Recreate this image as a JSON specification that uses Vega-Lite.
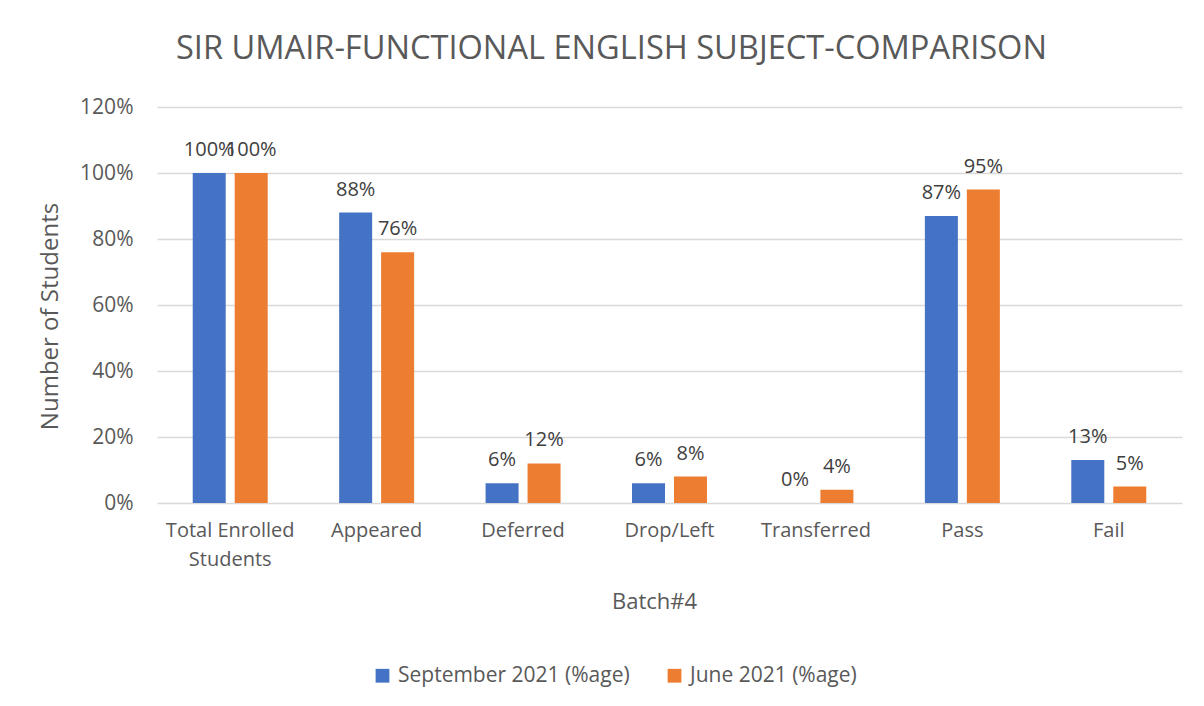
{
  "$schema": "https://vega.github.io/schema/vega-lite/v6.json",
  "autosize": {"type": "none"},
  "width": 1025,
  "height": 396,
  "padding": {"left": 157, "top": 107, "right": 22, "bottom": 203},
  "background": "white",
  "title": {
    "text": "SIR UMAIR-FUNCTIONAL ENGLISH SUBJECT-COMPARISON",
    "font": "Open Sans",
    "fontSize": 32.6,
    "fontWeight": "normal",
    "color": "#595959",
    "anchor": "middle",
    "dx": -58,
    "offset": 30
  },
  "data": {
    "values": [
      {"category": "Total Enrolled Students", "series": "September 2021 (%age)", "value": 1.00},
      {"category": "Total Enrolled Students", "series": "June 2021 (%age)", "value": 1.00},
      {"category": "Appeared", "series": "September 2021 (%age)", "value": 0.88},
      {"category": "Appeared", "series": "June 2021 (%age)", "value": 0.76},
      {"category": "Deferred", "series": "September 2021 (%age)", "value": 0.06},
      {"category": "Deferred", "series": "June 2021 (%age)", "value": 0.12},
      {"category": "Drop/Left", "series": "September 2021 (%age)", "value": 0.06},
      {"category": "Drop/Left", "series": "June 2021 (%age)", "value": 0.08},
      {"category": "Transferred", "series": "September 2021 (%age)", "value": 0.0},
      {"category": "Transferred", "series": "June 2021 (%age)", "value": 0.04},
      {"category": "Pass", "series": "September 2021 (%age)", "value": 0.87},
      {"category": "Pass", "series": "June 2021 (%age)", "value": 0.95},
      {"category": "Fail", "series": "September 2021 (%age)", "value": 0.13},
      {"category": "Fail", "series": "June 2021 (%age)", "value": 0.05}
    ]
  },
  "encoding": {
    "x": {
      "field": "category",
      "type": "nominal",
      "sort": null,
      "scale": {"paddingInner": 0.488, "paddingOuter": 0.244},
      "axis": {
        "title": "Batch#4",
        "titleFont": "Open Sans",
        "titleFontSize": 22,
        "titleFontWeight": "normal",
        "titleColor": "#595959",
        "titlePadding": 22,
        "titleX": 497,
        "labelFont": "Open Sans",
        "labelFontSize": 20,
        "labelColor": "#595959",
        "labelAngle": 0,
        "labelPadding": 17,
        "labelLineHeight": 29,
        "labelLimit": 300,
        "labelExpr": "datum.label == 'Total Enrolled Students' ? ['Total Enrolled', 'Students'] : datum.label",
        "domain": false,
        "ticks": false
      }
    },
    "xOffset": {
      "field": "series",
      "type": "nominal",
      "sort": ["September 2021 (%age)", "June 2021 (%age)"],
      "scale": {"paddingInner": 0.214, "paddingOuter": 0}
    },
    "y": {
      "field": "value",
      "type": "quantitative",
      "scale": {"domain": [0, 1.2]},
      "axis": {
        "title": "Number of Students",
        "titleFont": "Open Sans",
        "titleFontSize": 24,
        "titleFontWeight": "normal",
        "titleColor": "#595959",
        "titleX": -95,
        "titleY": 209,
        "format": ".0%",
        "values": [0, 0.2, 0.4, 0.6, 0.8, 1.0, 1.2],
        "labelOverlap": false,
        "labelFont": "Open Sans",
        "labelFontSize": 21,
        "labelColor": "#595959",
        "labelPadding": 24,
        "domain": false,
        "ticks": false,
        "gridColor": "#D9D9D9",
        "gridWidth": 1.3
      }
    }
  },
  "layer": [
    {
      "mark": {"type": "bar"},
      "encoding": {
        "color": {
          "field": "series",
          "type": "nominal",
          "sort": ["September 2021 (%age)", "June 2021 (%age)"],
          "scale": {"domain": ["September 2021 (%age)", "June 2021 (%age)"], "range": ["#4472C4", "#ED7D31"]},
          "legend": {
            "title": null,
            "orient": "none",
            "direction": "horizontal",
            "legendX": 215,
            "legendY": 558,
            "symbolType": "square",
            "symbolSize": 190,
            "symbolStrokeWidth": 0,
            "labelFont": "Open Sans",
            "labelFontSize": 21,
            "labelColor": "#595959",
            "labelOffset": 5,
            "labelLimit": 400,
            "columnPadding": 34
          }
        }
      }
    },
    {
      "mark": {"type": "text", "baseline": "alphabetic", "dy": -17, "font": "Open Sans", "fontSize": 20, "color": "#404040"},
      "encoding": {
        "text": {"field": "value", "type": "quantitative", "format": ".0%"}
      }
    }
  ],
  "config": {
    "view": {"stroke": null}
  }
}
